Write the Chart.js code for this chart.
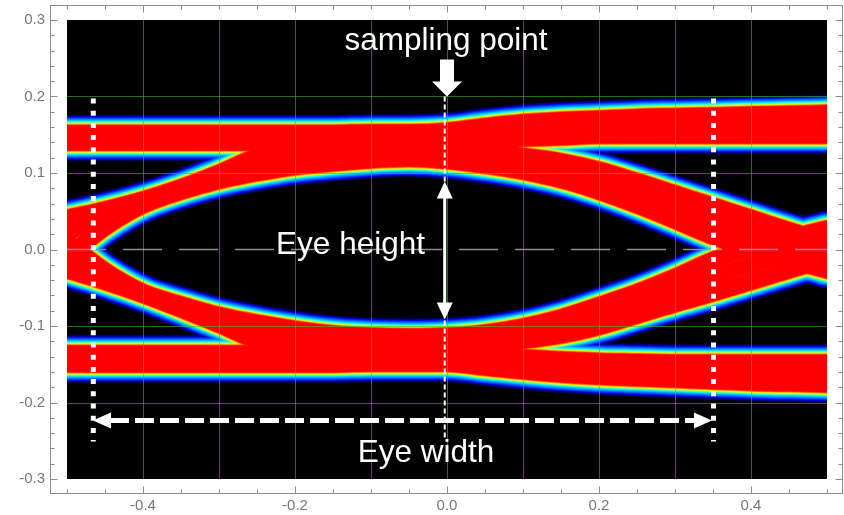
<!DOCTYPE html>
<html>
<head>
<meta charset="utf-8">
<script src="https://cdn.jsdelivr.net/npm/chart.js@4.4.1/dist/chart.umd.min.js"></script>
<style>
  html, body { margin: 0; padding: 0; background: #fff; }
  #wrap { width: 844px; height: 515px; }
</style>
</head>
<body>
<div id="wrap"><canvas id="eye" width="844" height="515"></canvas></div>
<script>
// Time within one unit interval (UI), shared by every trace
const timeUI = [-0.5, -0.45, -0.4, -0.35, -0.3, -0.25, -0.2, -0.15, -0.1, -0.05, 0,
                0.05, 0.1, 0.15, 0.2, 0.25, 0.3, 0.35, 0.4, 0.45, 0.5];

// Upper rail: traces that are high at the sampling instant (amplitude, V)
const highSteadyOuter = [0.152, 0.152, 0.152, 0.152, 0.152, 0.152, 0.152, 0.152, 0.153, 0.153, 0.155,
                         0.161, 0.166, 0.169, 0.171, 0.173, 0.174, 0.175, 0.176, 0.177, 0.178];
const highSteadyInner = [0.148, 0.148, 0.148, 0.148, 0.148, 0.148, 0.148, 0.148, 0.148, 0.149, 0.150,
                         0.153, 0.157, 0.160, 0.162, 0.163, 0.164, 0.164, 0.165, 0.165, 0.165];
const highFallOuter   = [0.140, 0.140, 0.140, 0.140, 0.140, 0.140, 0.139, 0.138, 0.137, 0.135, 0.132,
                         0.128, 0.122, 0.115, 0.104, 0.089, 0.073, 0.057, 0.041, 0.025, 0.010];
const highFallInner   = [0.142, 0.142, 0.142, 0.142, 0.142, 0.141, 0.140, 0.138, 0.135, 0.131, 0.126,
                         0.120, 0.112, 0.102, 0.090, 0.073, 0.055, 0.037, 0.020, 0.005, -0.009];
const riseStayOuter   = [0.041, 0.052, 0.065, 0.081, 0.100, 0.121, 0.130, 0.134, 0.137, 0.139, 0.140,
                         0.142, 0.145, 0.147, 0.149, 0.149, 0.149, 0.149, 0.149, 0.149, 0.149];
const riseStayInner   = [0.022, 0.043, 0.061, 0.078, 0.095, 0.112, 0.122, 0.128, 0.132, 0.136, 0.140,
                         0.146, 0.150, 0.153, 0.155, 0.156, 0.156, 0.156, 0.156, 0.156, 0.156];
const isolatedHigh    = [-0.010, 0.029, 0.058, 0.076, 0.090, 0.100, 0.108, 0.113, 0.117, 0.119, 0.116,
                         0.110, 0.102, 0.091, 0.076, 0.058, 0.038, 0.017, 0.000, -0.014, -0.027];

// Lower rail: traces that are low at the sampling instant (amplitude, V)
const lowSteadyOuter  = [-0.150, -0.150, -0.150, -0.150, -0.150, -0.150, -0.150, -0.150, -0.149, -0.149, -0.149,
                         -0.154, -0.159, -0.163, -0.166, -0.168, -0.170, -0.172, -0.174, -0.175, -0.176];
const lowSteadyInner  = [-0.146, -0.146, -0.146, -0.146, -0.146, -0.146, -0.146, -0.146, -0.146, -0.146, -0.147,
                         -0.150, -0.154, -0.157, -0.159, -0.161, -0.162, -0.163, -0.163, -0.164, -0.164];
const lowRiseOuter    = [-0.136, -0.136, -0.136, -0.136, -0.136, -0.136, -0.135, -0.134, -0.133, -0.131, -0.128,
                         -0.124, -0.119, -0.112, -0.101, -0.086, -0.071, -0.057, -0.042, -0.027, -0.012];
const lowRiseInner    = [-0.140, -0.140, -0.140, -0.140, -0.140, -0.139, -0.138, -0.136, -0.133, -0.129, -0.124,
                         -0.118, -0.110, -0.100, -0.088, -0.071, -0.054, -0.036, -0.020, -0.006, 0.008];
const fallStayOuter   = [-0.027, -0.042, -0.059, -0.078, -0.098, -0.119, -0.128, -0.132, -0.134, -0.135, -0.136,
                         -0.138, -0.141, -0.144, -0.146, -0.147, -0.148, -0.148, -0.148, -0.148, -0.148];
const fallStayInner   = [-0.013, -0.039, -0.058, -0.076, -0.093, -0.110, -0.121, -0.127, -0.131, -0.134, -0.137,
                         -0.143, -0.148, -0.151, -0.153, -0.154, -0.154, -0.154, -0.154, -0.154, -0.154];
const isolatedLow     = [0.010, -0.028, -0.056, -0.072, -0.086, -0.096, -0.104, -0.110, -0.113, -0.114, -0.113,
                         -0.109, -0.101, -0.089, -0.073, -0.056, -0.036, -0.014, 0.002, 0.015, 0.027];

// Axis tick labels and grid positions
const xTickValues = [-0.4, -0.2, 0, 0.2, 0.4];
const yTickValues = [-0.3, -0.2, -0.1, 0, 0.1, 0.2, 0.3];
const xGridValues = [-0.4, -0.3, -0.2, -0.1, 0, 0.1, 0.2, 0.3, 0.4];
const yGridValues = [-0.2, -0.1, 0.1, 0.2];

// Eye measurements (UI, V)
const samplingInstant = 0;
const eyeLeftEdge = -0.4654;
const eyeRightEdge = 0.3507;
const eyeTop = 0.089;
const eyeBottom = -0.0915;

const traces = [
  highSteadyOuter, highSteadyInner, highFallOuter, highFallInner,
  riseStayOuter, riseStayInner, isolatedHigh,
  lowSteadyOuter, lowSteadyInner, lowRiseOuter, lowRiseInner,
  fallStayOuter, fallStayInner, isolatedLow
];

// Hit-density colour ramp: each trace is stroked from the wide cold halo to the narrow hot core
const heatRamp = [
  [38, '#000028'], [36, '#000078'], [34, '#0000d0'], [32, '#0028ff'], [30, '#0060ff'],
  [28, '#0098ff'], [26, '#00d0ff'], [24, '#30fcd0'], [22, '#90ff70'], [20.5, '#e0f810'],
  [19, '#ffc000'], [18, '#ff7000'], [17, '#ff3000'], [16, '#ff0000']
];

const datasets = [];
heatRamp.forEach(([width, colour], layer) => {
  traces.forEach(trace => {
    datasets.push({
      data: timeUI.map((t, i) => ({ x: t, y: trace[i] })),
      borderColor: colour,
      borderWidth: width,
      borderCapStyle: 'round',
      borderJoinStyle: 'round',
      cubicInterpolationMode: 'monotone',
      pointRadius: 0,
      fill: false,
      clip: 0,
      order: heatRamp.length - 1 - layer
    });
  });
});

const FONT = '"Liberation Sans", Arial, sans-serif';

function arrowHead(ctx, tipX, tipY, dirX, dirY, len, half) {
  const bx = tipX - dirX * len, by = tipY - dirY * len;
  ctx.beginPath();
  ctx.moveTo(tipX, tipY);
  ctx.lineTo(bx - dirY * half, by + dirX * half);
  ctx.lineTo(bx + dirY * half, by - dirX * half);
  ctx.closePath();
  ctx.fill();
}

const eyeDecor = {
  id: 'eyeDecor',
  beforeDraw(chart) {
    const { ctx, width, height, chartArea: a } = chart;
    ctx.save();
    ctx.fillStyle = '#ffffff';
    ctx.fillRect(0, 0, width, height);
    ctx.fillStyle = '#000000';
    ctx.fillRect(a.left, a.top, a.right - a.left, a.bottom - a.top);
    ctx.restore();
  },
  afterDatasetsDraw(chart) {
    const { ctx, chartArea: a, scales: { x, y } } = chart;
    ctx.save();
    ctx.beginPath();
    ctx.rect(a.left, a.top, a.right - a.left, a.bottom - a.top);
    ctx.clip();
    ctx.strokeStyle = 'rgba(60,190,40,0.6)';
    ctx.lineWidth = 1;
    xGridValues.forEach(v => {
      const px = Math.round(x.getPixelForValue(v)) + 0.5;
      ctx.beginPath(); ctx.moveTo(px, a.top); ctx.lineTo(px, a.bottom); ctx.stroke();
    });
    yGridValues.forEach(v => {
      const py = Math.round(y.getPixelForValue(v)) + 0.5;
      ctx.beginPath(); ctx.moveTo(a.left, py); ctx.lineTo(a.right, py); ctx.stroke();
    });
    // dashed zero-amplitude reference
    ctx.strokeStyle = 'rgba(155,155,155,0.9)';
    ctx.lineWidth = 1.5;
    ctx.setLineDash([39, 17]);
    const zy = y.getPixelForValue(0);
    ctx.beginPath(); ctx.moveTo(a.left, zy); ctx.lineTo(a.right, zy); ctx.stroke();
    ctx.restore();
  },
  afterDraw(chart) {
    const { ctx, chartArea: a, scales: { x, y } } = chart;
    const X = v => x.getPixelForValue(v);
    const Y = v => y.getPixelForValue(v);

    // frame with inward ticks
    const fl = a.left - 16.5, fr = a.right + 15.5, ft = a.top - 14.5, fb = a.bottom + 14.5;
    ctx.save();
    ctx.strokeStyle = '#8c8c8c';
    ctx.lineWidth = 1;
    ctx.strokeRect(fl, ft, fr - fl, fb - ft);
    ctx.beginPath();
    for (let k = -10; k <= 10; k++) {
      const len = Math.abs(k) % 4 === 0 ? 7 : 4;
      const px = Math.round(X(k * 0.05)) + 0.5;
      ctx.moveTo(px, fb); ctx.lineTo(px, fb - len);
      ctx.moveTo(px, ft); ctx.lineTo(px, ft + len);
    }
    for (let k = -15; k <= 15; k++) {
      const len = k % 5 === 0 ? 7 : 4;
      const py = Math.round(Y(k * 0.02)) + 0.5;
      ctx.moveTo(fl, py); ctx.lineTo(fl + len, py);
      ctx.moveTo(fr, py); ctx.lineTo(fr - len, py);
    }
    ctx.stroke();
    ctx.restore();

    // annotations
    ctx.save();
    ctx.fillStyle = '#ffffff';
    ctx.strokeStyle = '#ffffff';

    // sampling-point arrow
    const sx = X(samplingInstant), tipY = Y(0.2);
    ctx.fillRect(sx - 7, tipY - 37, 14, 23);
    arrowHead(ctx, sx, tipY, 0, 1, 15, 15);

    // thin dashed sampling marker
    const mx = X(samplingInstant - 0.003);
    ctx.lineWidth = 2;
    ctx.setLineDash([5, 3]);
    ctx.beginPath(); ctx.moveTo(mx, tipY); ctx.lineTo(mx, Y(-0.248)); ctx.stroke();
    ctx.setLineDash([]);

    // eye height double arrow
    const hTop = Y(eyeTop), hBot = Y(eyeBottom);
    ctx.lineWidth = 3;
    ctx.beginPath(); ctx.moveTo(mx, hTop + 14); ctx.lineTo(mx, hBot - 14); ctx.stroke();
    arrowHead(ctx, mx, hTop, 0, -1, 17, 8);
    arrowHead(ctx, mx, hBot, 0, 1, 17, 8);

    // dotted eye-opening boundaries
    ctx.lineWidth = 5;
    ctx.setLineDash([5, 7.2]);
    [eyeLeftEdge, eyeRightEdge].forEach(v => {
      const px = X(v);
      ctx.beginPath(); ctx.moveTo(px, Y(0.1974)); ctx.lineTo(px, Y(-0.251)); ctx.stroke();
    });

    // eye width dashed double arrow
    const wy = Y(-0.2235), wl = X(eyeLeftEdge - 0.0004), wr = X(eyeRightEdge - 0.002);
    ctx.setLineDash([19, 6]);
    ctx.beginPath(); ctx.moveTo(wl + 17, wy); ctx.lineTo(wr - 17, wy); ctx.stroke();
    ctx.setLineDash([]);
    arrowHead(ctx, wl, wy, -1, 0, 18, 8);
    arrowHead(ctx, wr, wy, 1, 0, 18, 8);

    // labels
    ctx.font = '31.5px ' + FONT;
    ctx.textBaseline = 'alphabetic';
    ctx.textAlign = 'center';
    ctx.fillText('sampling point', X(-0.0013), Y(0.2614));
    ctx.textAlign = 'right';
    ctx.fillText('Eye height', X(-0.029), Y(-0.0065));
    ctx.textAlign = 'center';
    ctx.fillText('Eye width', X(-0.0276), Y(-0.2784));
    ctx.restore();
  }
};

new Chart(document.getElementById('eye').getContext('2d'), {
  type: 'line',
  data: { datasets },
  options: {
    responsive: false,
    animation: false,
    events: [],
    layout: { padding: { top: 20, right: 17, left: 0, bottom: 0 } },
    plugins: { legend: { display: false }, tooltip: { enabled: false } },
    scales: {
      x: {
        type: 'linear', min: -0.5, max: 0.5,
        grid: { display: false, drawTicks: false },
        border: { display: false },
        afterBuildTicks: axis => { axis.ticks = xTickValues.map(v => ({ value: v })); },
        afterFit: axis => { axis.height = 36; axis.paddingLeft = 0; axis.paddingRight = 0; },
        ticks: {
          autoSkip: false, maxRotation: 0, padding: 18, color: '#777777',
          font: { family: FONT, size: 15 },
          callback: v => Number(v).toFixed(1)
        }
      },
      y: {
        type: 'linear', min: -0.3, max: 0.3,
        grid: { display: false, drawTicks: false },
        border: { display: false },
        afterBuildTicks: axis => { axis.ticks = yTickValues.map(v => ({ value: v })); },
        afterFit: axis => { axis.width = 67; axis.paddingTop = 0; axis.paddingBottom = 0; },
        ticks: {
          autoSkip: false, padding: 22, color: '#777777',
          font: { family: FONT, size: 15 },
          callback: v => Number(v).toFixed(1)
        }
      }
    }
  },
  plugins: [eyeDecor]
});
</script>
</body>
</html>
